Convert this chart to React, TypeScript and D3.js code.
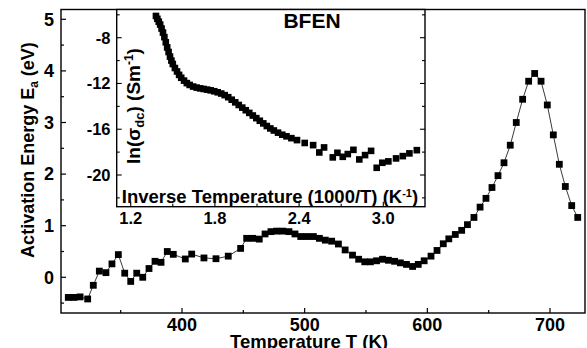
import React from 'react';
import * as d3 from 'd3';

// main panel: temperature (K) vs activation energy (eV)
const tempK = [
  307.3, 312, 316.9, 323.1, 327.7, 332.6, 338, 342.9, 348.1, 353.3, 358.2, 363.1, 368, 373.1,
  378, 382.9, 388, 392.9, 402.7, 407.9, 417.9, 427.7, 437.7, 447.8, 452.7, 457.6, 463, 467.7,
  472.5, 477.2, 482.1, 487.2, 492.1, 496.8, 501.7, 507.1, 512, 516.8, 522, 527.5, 533, 539,
  544, 549, 553.6, 558.6, 563.5, 568.3, 573.3, 578, 583, 588, 592.6, 597.4, 603, 607.9, 613,
  617.5, 622.8, 628, 632.7, 638, 643, 647.8, 652.7, 657.6, 662.5, 667.6, 672.5, 677.7, 682.6,
  687.5, 692.7, 697.8, 702.7, 707.6, 712.5, 717.7, 722.6,
];
const activationEV = [
  -0.39, -0.39, -0.38, -0.42, -0.155, 0.12, 0.09, 0.26, 0.44, 0.08, -0.08, 0.08, 0.0, 0.17,
  0.31, 0.29, 0.5, 0.445, 0.355, 0.45, 0.375, 0.36, 0.41, 0.56, 0.755, 0.755, 0.74, 0.84,
  0.885, 0.895, 0.895, 0.885, 0.84, 0.79, 0.79, 0.79, 0.755, 0.72, 0.7, 0.645, 0.53, 0.43,
  0.35, 0.3, 0.3, 0.32, 0.35, 0.33, 0.31, 0.28, 0.25, 0.21, 0.25, 0.32, 0.41, 0.52, 0.65,
  0.745, 0.83, 0.91, 1.02, 1.16, 1.36, 1.53, 1.74, 1.97, 2.22, 2.56, 3.0, 3.45, 3.8,
  3.95, 3.8, 3.34, 2.76, 2.19, 1.76, 1.39, 1.16,
];

// inset: 1000/T vs ln(sigma_dc)
const inverseT = [
  1.38, 1.39, 1.4, 1.41, 1.42, 1.43, 1.44, 1.45, 1.46, 1.47, 1.48, 1.49, 1.5, 1.515, 1.53,
  1.545, 1.56, 1.58, 1.6, 1.62, 1.645, 1.67, 1.695, 1.72, 1.745, 1.77, 1.795, 1.82, 1.845,
  1.87, 1.895, 1.92, 1.945, 1.97, 1.995, 2.02, 2.045, 2.07, 2.095, 2.12, 2.145, 2.17, 2.195,
  2.22, 2.25, 2.28, 2.31, 2.345, 2.385, 2.44, 2.5, 2.544, 2.578, 2.64, 2.673, 2.711, 2.747,
  2.787, 2.829, 2.87, 2.913, 2.953, 2.993, 3.036, 3.091, 3.139, 3.186, 3.239,
];
const lnSigma = [
  -6.1, -6.35, -6.6, -6.85, -7.2, -7.55, -7.95, -8.4, -8.85, -9.25, -9.65, -10.0, -10.3,
  -10.65, -10.95, -11.25, -11.5, -11.75, -11.97, -12.13, -12.27, -12.36, -12.43, -12.48,
  -12.54, -12.6, -12.68, -12.77, -12.88, -13.02, -13.2, -13.42, -13.65, -13.88, -14.11,
  -14.34, -14.57, -14.8, -15.03, -15.26, -15.49, -15.72, -15.93, -16.11, -16.3, -16.48,
  -16.62, -16.78, -16.95, -17.2, -17.39, -18.03, -17.59, -18.46, -18.06, -18.41, -18.17,
  -17.8, -18.64, -18.26, -17.89, -19.37, -18.93, -18.81, -18.55, -18.35, -18.11, -17.83,
];

const mainXTicks = [400, 500, 600, 700];
const mainXMinor = [350, 450, 550, 650];
const mainYTicks = [0, 1, 2, 3, 4, 5];
const mainYMinor = [-0.5, 0.5, 1.5, 2.5, 3.5, 4.5];
const insetXTicks = [1.2, 1.8, 2.4, 3.0];
const insetXMinor = [1.5, 2.1, 2.7];
const insetYTicks = [-8, -12, -16, -20];
const insetYMinor = [-6, -10, -14, -18, -22];

const FONT = '"Liberation Sans", Arial, Helvetica, sans-serif';

const App: React.FC = () => {
  const W = 587;
  const H = 348;
  const main = { left: 61, right: 585, top: 9.5, bottom: 313 };
  const inset = { left: 116.7, right: 425, top: 9.5, bottom: 206.7 };

  const x = d3.scaleLinear().domain([400, 700]).range([182, 550]);
  const y = d3.scaleLinear().domain([0, 5]).range([277.3, 19.3]);
  const ix = d3.scaleLinear().domain([1.2, 3.0]).range([130.7, 383.3]);
  const iy = d3.scaleLinear().domain([-8, -20]).range([37.7, 175]);

  const mainPts = tempK.map((t, i) => [t, activationEV[i]] as [number, number]);
  const insetPts = inverseT.map((v, i) => [v, lnSigma[i]] as [number, number]);

  const line = d3
    .line<[number, number]>()
    .x((d) => x(d[0]))
    .y((d) => y(d[1]));

  const sq = 6.8;

  return (
    <div style={{ position: 'fixed', left: 0, top: 0 }}>
      <svg width={W} height={H} style={{ display: 'block', background: '#fff' }} fontFamily={FONT} fontWeight="bold">
        <rect width={W} height={H} fill="#fff" />

        {/* main data */}
        <path d={line(mainPts) || ''} fill="none" stroke="#222" strokeWidth={0.9} />
        {mainPts.map((d, i) => (
          <rect key={i} x={x(d[0]) - sq / 2} y={y(d[1]) - sq / 2} width={sq} height={sq} fill="#000" />
        ))}

        {/* main frame */}
        <rect
          x={main.left}
          y={main.top}
          width={main.right - main.left}
          height={main.bottom - main.top}
          fill="none"
          stroke="#000"
          strokeWidth={1.4}
        />

        {/* main x axis ticks */}
        {mainXTicks.map((t) => (
          <g key={t}>
            <line x1={x(t)} x2={x(t)} y1={main.bottom} y2={main.bottom - 5} stroke="#000" strokeWidth={1.2} />
            <text x={x(t)} y={330.5} textAnchor="middle" fontSize={18}>
              {t}
            </text>
          </g>
        ))}
        {mainXMinor.map((t) => (
          <line key={t} x1={x(t)} x2={x(t)} y1={main.bottom} y2={main.bottom - 3} stroke="#000" strokeWidth={1.2} />
        ))}
        <text x={309} y={347.5} textAnchor="middle" fontSize={18.5}>
          Temperature T (K)
        </text>

        {/* main y axis ticks */}
        {mainYTicks.map((t) => (
          <g key={t}>
            <line x1={main.left} x2={main.left + 5} y1={y(t)} y2={y(t)} stroke="#000" strokeWidth={1.2} />
            <text x={54} y={y(t) + 6.3} textAnchor="end" fontSize={18}>
              {t}
            </text>
          </g>
        ))}
        {mainYMinor.map((t) => (
          <line key={t} x1={main.left} x2={main.left + 3} y1={y(t)} y2={y(t)} stroke="#000" strokeWidth={1.2} />
        ))}
        <text transform="translate(33.5,150) rotate(-90)" textAnchor="middle" fontSize={18}>
          Activation Energy E<tspan dy={4} fontSize={12}>a</tspan>
          <tspan dy={-4}> (eV)</tspan>
        </text>

        {/* inset */}
        <rect
          x={inset.left}
          y={inset.top}
          width={inset.right - inset.left}
          height={inset.bottom - inset.top}
          fill="#fff"
          stroke="#000"
          strokeWidth={1.4}
        />
        {insetPts.map((d, i) => (
          <rect key={i} x={ix(d[0]) - 3.3} y={iy(d[1]) - 3.3} width={6.6} height={6.6} fill="#000" />
        ))}
        {insetXTicks.map((t) => (
          <g key={t}>
            <line x1={ix(t)} x2={ix(t)} y1={inset.bottom} y2={inset.bottom - 5} stroke="#000" strokeWidth={1.1} />
            <text x={ix(t)} y={223.5} textAnchor="middle" fontSize={16.5}>
              {t.toFixed(1)}
            </text>
          </g>
        ))}
        {insetXMinor.map((t) => (
          <line key={t} x1={ix(t)} x2={ix(t)} y1={inset.bottom} y2={inset.bottom - 3} stroke="#000" strokeWidth={1.1} />
        ))}
        {insetYTicks.map((t) => (
          <g key={t}>
            <line x1={inset.left} x2={inset.left + 5} y1={iy(t)} y2={iy(t)} stroke="#000" strokeWidth={1.1} />
            <line x1={inset.right} x2={inset.right - 5} y1={iy(t)} y2={iy(t)} stroke="#000" strokeWidth={1.1} />
            <text x={110.5} y={iy(t) + 5.8} textAnchor="end" fontSize={16.5}>
              {t}
            </text>
          </g>
        ))}
        {insetYMinor.map((t) => (
          <g key={t}>
            <line x1={inset.left} x2={inset.left + 3} y1={iy(t)} y2={iy(t)} stroke="#000" strokeWidth={1.1} />
            <line x1={inset.right} x2={inset.right - 3} y1={iy(t)} y2={iy(t)} stroke="#000" strokeWidth={1.1} />
          </g>
        ))}
        <text x={312} y={28} textAnchor="middle" fontSize={21}>
          BFEN
        </text>
        <text x={270} y={202.5} textAnchor="middle" fontSize={18.5}>
          Inverse Temperature (1000/T) (K<tspan dy={-6} fontSize={11}>-1</tspan>
          <tspan dy={6}>)</tspan>
        </text>
        <text transform="translate(139.5,106) rotate(-90)" textAnchor="middle" fontSize={19}>
          ln(σ<tspan dy={4} fontSize={13}>dc</tspan>
          <tspan dy={-4}>) (Sm</tspan>
          <tspan dy={-7} fontSize={12}>-1</tspan>
          <tspan dy={7}>)</tspan>
        </text>
      </svg>
    </div>
  );
};

export default App;
